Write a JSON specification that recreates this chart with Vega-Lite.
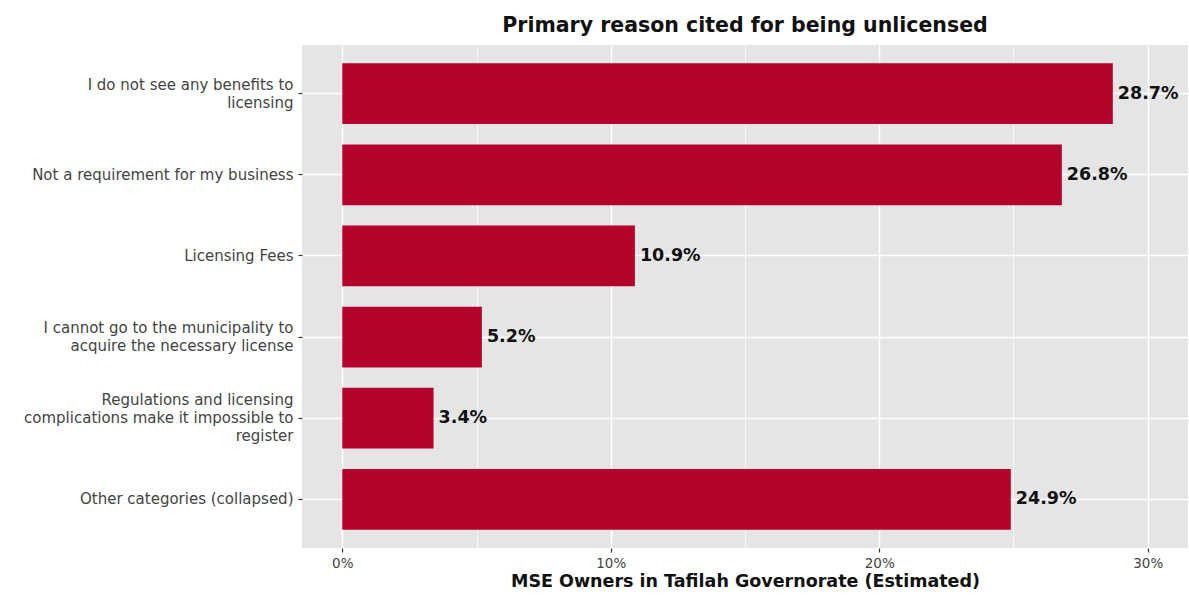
{
  "$schema": "https://vega.github.io/schema/vega-lite/v6.json",
  "width": 886,
  "height": 503,
  "autosize": {"type": "none"},
  "padding": {"left": 302, "top": 45, "right": 1, "bottom": 49},
  "background": "white",
  "config": {
    "view": {"fill": "#E5E5E5", "stroke": null},
    "font": "DejaVu Sans"
  },
  "title": {
    "text": "Primary reason cited for being unlicensed",
    "fontSize": 20.5,
    "fontWeight": "bold",
    "color": "#111111",
    "anchor": "middle",
    "offset": 9,
    "font": "DejaVu Sans"
  },
  "data": {
    "values": [
      {"reason": "I do not see any benefits to\nlicensing", "share": 0.287, "order": 1},
      {"reason": "Not a requirement for my business", "share": 0.268, "order": 2},
      {"reason": "Licensing Fees", "share": 0.109, "order": 3},
      {"reason": "I cannot go to the municipality to\nacquire the necessary license", "share": 0.052, "order": 4},
      {"reason": "Regulations and licensing\ncomplications make it impossible to\nregister", "share": 0.034, "order": 5},
      {"reason": "Other categories (collapsed)", "share": 0.249, "order": 6}
    ]
  },
  "encoding": {
    "y": {
      "field": "reason",
      "type": "nominal",
      "sort": {"field": "order", "order": "ascending"},
      "scale": {"paddingInner": 0.25, "paddingOuter": 0.225},
      "axis": {
        "title": null,
        "domain": false,
        "grid": true,
        "gridColor": "white",
        "gridWidth": 1.5,
        "bandPosition": 0.5,
        "tickColor": "#333333",
        "tickSize": 4,
        "tickWidth": 1.2,
        "labelPadding": 5,
        "labelFontSize": 15,
        "labelColor": "#444444",
        "labelLineHeight": 18,
        "labelLimit": 400,
        "labelOffset": {"expr": "-(length(split(datum.value, '\\n')) - 1) * 9"},
        "labelExpr": "split(datum.label, '\\n')"
      }
    },
    "x": {
      "field": "share",
      "type": "quantitative",
      "scale": {"domain": [-0.015, 0.315], "nice": false, "zero": false},
      "axis": {
        "values": [0, 0.05, 0.1, 0.15, 0.2, 0.25, 0.3],
        "format": ".0%",
        "labelExpr": "(round(datum.value*100) % 10 === 0) ? datum.label : ''",
        "title": "MSE Owners in Tafilah Governorate (Estimated)",
        "titleFontSize": 17.5,
        "titleFontWeight": 600,
        "titleColor": "#111111",
        "titlePadding": 3,
        "domain": false,
        "grid": true,
        "gridColor": "white",
        "gridWidth": {"condition": {"test": "round(datum.value*100) % 10 === 0", "value": 1.5}, "value": 0.7},
        "tickColor": "#333333",
        "tickOpacity": {"condition": {"test": "round(datum.value*100) % 10 === 0", "value": 1}, "value": 0},
        "tickSize": 4,
        "tickWidth": 1.2,
        "labelPadding": 4,
        "labelFontSize": 13.5,
        "labelColor": "#444444"
      }
    }
  },
  "layer": [
    {
      "mark": {"type": "bar", "color": "#B5042C", "orient": "horizontal"},
      "encoding": {"x2": {"datum": 0}}
    },
    {
      "mark": {"type": "text", "align": "left", "baseline": "middle", "dx": 5, "fontSize": 17.5, "fontWeight": "bold", "color": "#111111"},
      "encoding": {"text": {"field": "share", "type": "quantitative", "format": ".1%"}}
    }
  ]
}
